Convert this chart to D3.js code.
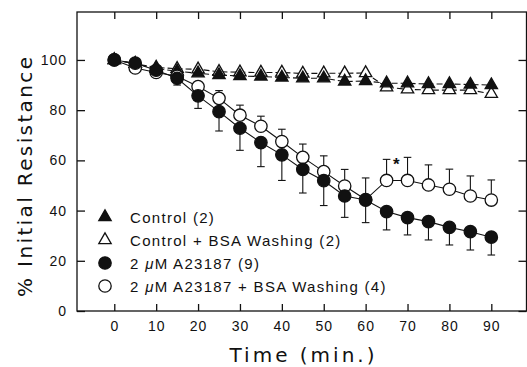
<!DOCTYPE html>
<meta charset="utf-8">
<style>
  body {
    margin: 0;
    background: #fff;
  }

  text {
    font-family: "Liberation Sans", Arial, sans-serif;
    fill: #111;
  }

  .axis line {
    stroke: #111;
    stroke-width: 1.3px;
  }

  .axis text {
    font-size: 14px;
    letter-spacing: 1px;
  }

  .title {
    font-family: "DejaVu Sans", sans-serif;
    font-size: 20px;
  }

  .frame {
    fill: none;
    stroke: #111;
    stroke-width: 1.3px;
  }

  .line {
    fill: none;
    stroke: #111;
    stroke-width: 1.1px;
  }

  .dashed {
    stroke-dasharray: 6, 3;
  }

  .err {
    stroke: #111;
    stroke-width: 1.1px;
  }
</style>

<body>
  <script src="https://d3js.org/d3.v7.min.js"></script>
  <script>
    // time points (min.)
    var times = [0, 5, 10, 15, 20, 25, 30, 35, 40, 45, 50, 55, 60, 65, 70, 75, 80, 85, 90];

    // % initial resistance
    var control = [100, 98.5, 96.5, 95.5, 94.7, 94, 93.6, 93.4, 93, 92.7, 92.7, 91.4, 91.6, 90.7, 90.7, 90.4, 90.4, 90.2, 90];
    var controlBsa = [100, 98.5, 97, 96.5, 96.3, 95.3, 95.1, 95, 95, 94.6, 94.7, 94.7, 94.8, 89.1, 88.3, 88, 88, 88, 86.5];
    var a23187 = [100, 98.7, 95.9, 92.7, 85.7, 79.4, 72.8, 67.1, 62.2, 56.4, 51.9, 45.8, 44.2, 39.6, 37.2, 35.6, 33.3, 31.6, 29.4];
    var a23187Err = [0, 0.5, 1, 2.7, 5, 7.7, 8.8, 9.6, 10.2, 9.4, 9.9, 8.5, 9, 7.3, 6.9, 7.3, 7, 7.3, 7.1];
    var a23187Bsa = [100, 96.8, 95, 93.5, 89.4, 84.7, 78, 73.6, 67.5, 61.2, 55.5, 49.8, 44.4, 52, 52, 50.2, 48.5, 45.8, 44.2];
    var a23187BsaErr = [0, 0.5, 1, 1.5, 2, 3.1, 4, 4, 4.9, 5.3, 6.3, 6.6, 8.6, 8.4, 9.2, 8, 8, 8, 8];

    // tick labels
    var xTicks = [0, 10, 20, 30, 40, 50, 60, 70, 80, 90];
    var yTicks = [0, 20, 40, 60, 80, 100];

    var legendLabels = ["Control (2)", "Control + BSA Washing (2)", "2 \u03bcM A23187 (9)", "2 \u03bcM A23187 + BSA Washing (4)"];

    // significance mark
    var starTime = 67.3,
      starValue = 56;

    var margin = {
        top: 12,
        right: 0.5,
        bottom: 56,
        left: 77
      },
      width = 527 - margin.left - margin.right,
      height = 367 - margin.top - margin.bottom;

    var x = d3.scaleLinear().domain([-8.9, 98.4]).range([0, width]);
    var y = d3.scaleLinear().domain([0, 119.1]).range([height, 0]);

    var svg = d3.select("body").append("svg")
      .attr("width", 527)
      .attr("height", 367)
      .append("g")
      .attr("transform", "translate(" + margin.left + "," + margin.top + ")");

    // frame
    svg.append("rect")
      .attr("class", "frame")
      .attr("width", width)
      .attr("height", height);

    // axes, ticks pointing inward
    svg.append("g")
      .attr("class", "axis")
      .attr("transform", "translate(0," + height + ")")
      .call(d3.axisBottom(x).tickValues(xTicks).tickSize(-7).tickPadding(10))
      .call(function(g) { g.select(".domain").remove(); });

    svg.append("g")
      .attr("class", "axis")
      .call(d3.axisTop(x).tickValues(xTicks).tickSize(-7).tickFormat(""))
      .call(function(g) { g.select(".domain").remove(); });

    svg.append("g")
      .attr("class", "axis")
      .call(d3.axisLeft(y).tickValues(yTicks).tickSize(-8).tickPadding(10))
      .call(function(g) { g.select(".domain").remove(); });

    svg.append("g")
      .attr("class", "axis")
      .attr("transform", "translate(" + width + ",0)")
      .call(d3.axisRight(y).tickValues(yTicks).tickSize(-8).tickFormat(""))
      .call(function(g) { g.select(".domain").remove(); });

    // axis titles
    svg.append("text")
      .attr("class", "title")
      .attr("x", 302 - margin.left)
      .attr("y", 362 - margin.top)
      .attr("text-anchor", "middle")
      .attr("textLength", 145)
      .attr("lengthAdjust", "spacing")
      .text("Time (min.)");

    svg.append("text")
      .attr("class", "title")
      .attr("transform", "translate(" + (32 - margin.left) + "," + (177 - margin.top) + ") rotate(-90)")
      .attr("text-anchor", "middle")
      .attr("textLength", 240)
      .attr("lengthAdjust", "spacing")
      .text("% Initial Resistance");

    function pts(vals, errs) {
      return times.map(function(t, i) {
        return {
          t: t,
          v: vals[i],
          e: errs ? errs[i] : 0
        };
      });
    }

    var line = d3.line()
      .x(function(d) { return x(d.t); })
      .y(function(d) { return y(d.v); });

    var series = [
      { data: pts(controlBsa), dashed: true, shape: "tri", fill: "#fff" },
      { data: pts(control), dashed: true, shape: "tri", fill: "#111" },
      { data: pts(a23187Bsa, a23187BsaErr), dashed: false, shape: "circ", fill: "#fff", dir: -1 },
      { data: pts(a23187, a23187Err), dashed: false, shape: "circ", fill: "#111", dir: 1 }
    ];

    // connecting lines
    series.forEach(function(s) {
      svg.append("path")
        .datum(s.data)
        .attr("class", s.dashed ? "line dashed" : "line")
        .attr("d", line);
    });

    // error bars: open circles up, filled circles down
    series.filter(function(s) { return s.dir; }).forEach(function(s) {
      var g = svg.append("g");
      var bars = s.data.filter(function(d) { return d.e > 1.5; });
      g.selectAll(".stem")
        .data(bars)
        .enter().append("line")
        .attr("class", "err")
        .attr("x1", function(d) { return x(d.t); })
        .attr("x2", function(d) { return x(d.t); })
        .attr("y1", function(d) { return y(d.v); })
        .attr("y2", function(d) { return y(d.v - s.dir * d.e); });
      g.selectAll(".cap")
        .data(bars)
        .enter().append("line")
        .attr("class", "err")
        .attr("x1", function(d) { return x(d.t) - 3.8; })
        .attr("x2", function(d) { return x(d.t) + 3.8; })
        .attr("y1", function(d) { return y(d.v - s.dir * d.e); })
        .attr("y2", function(d) { return y(d.v - s.dir * d.e); });
    });

    var tri = d3.symbol().type(d3.symbolTriangle).size(66);

    function marker(sel, s) {
      if (s.shape === "tri") {
        sel.append("path")
          .attr("d", tri)
          .style("fill", s.fill)
          .style("stroke", "#111")
          .style("stroke-width", 1.3);
      } else {
        sel.append("circle")
          .attr("r", 6.2)
          .style("fill", s.fill)
          .style("stroke", "#111")
          .style("stroke-width", 1.3);
      }
    }

    // markers
    series.forEach(function(s) {
      svg.append("g").selectAll("g")
        .data(s.data)
        .enter().append("g")
        .attr("transform", function(d) { return "translate(" + x(d.t) + "," + y(d.v) + ")"; })
        .each(function() { marker(d3.select(this), s); });
    });

    svg.append("text")
      .attr("x", x(starTime))
      .attr("y", y(starValue))
      .attr("text-anchor", "middle")
      .style("font-size", "17px")
      .style("font-weight", "bold")
      .text("*");

    // legend
    var legendOrder = [1, 0, 3, 2];
    var legend = svg.append("g")
      .attr("transform", "translate(" + (105 - margin.left) + "," + (217 - margin.top) + ")");

    legendLabels.forEach(function(lab, i) {
      var row = legend.append("g").attr("transform", "translate(0," + (i * 23) + ")");
      marker(row.append("g"), series[legendOrder[i]]);
      var txt = row.append("text")
        .attr("x", 25)
        .attr("y", 5.5)
        .style("font-size", "15px")
        .style("letter-spacing", "1.3px");
      var parts = lab.split("\u03bc");
      txt.append("tspan").text(parts[0]);
      if (parts.length > 1) {
        txt.append("tspan").style("font-style", "italic").text("\u03bc");
        txt.append("tspan").text(parts[1]);
      }
    });
  </script>
</body>
